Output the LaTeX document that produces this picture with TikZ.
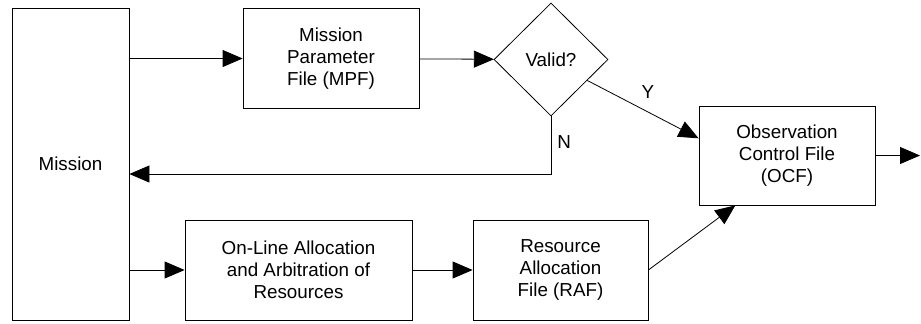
\documentclass[tikz,border=0pt]{standalone}
\usepackage{fontspec}
\setmainfont{Liberation Sans}
\usetikzlibrary{shapes.geometric, arrows.meta}
\tikzset{
	x=0.5pt, y=-0.5pt, % one unit per pixel of the layout grid
	line width=1.3pt,
	>={Triangle[length=10pt,width=8.5pt]}, % solid triangular heads
	block/.style={draw, rectangle, align=center, inner sep=2pt}, % the file and process boxes
	decision/.style={draw, diamond, aspect=1, inner sep=0pt, minimum width=57pt, minimum height=56.5pt}, % the test
	every node/.style={font=\fontsize{9.4}{11}\selectfont},
}
\begin{document}
\begin{tikzpicture}
	\useasboundingbox (0,0) rectangle (921,323);
			\node[block, minimum width=58.5pt, minimum height=156pt] (mission) at (70.5,164) {Mission};
			\node[block, minimum width=88pt, minimum height=50pt] (mpf) at (331,58.5) {Mission\\Parameter\\File (MPF)};
			\node[decision] (valid) at (551,59.5) {Valid?};
			\node[block, minimum width=88pt, minimum height=49.5pt] (ocf) at (787,155.5) {Observation\\Control File\\(OCF)};
			\node[block, minimum width=113.5pt, minimum height=50pt] (oca) at (298.5,270) {On-Line Allocation\\and Arbitration of\\Resources};
			\node[block, minimum width=87.5pt, minimum height=50pt] (raf) at (560.5,270) {Resource\\Allocation\\File (RAF)};
			\coordinate (nturn) at (551,174);
			\coordinate (out) at (920,156);
	% upper path: parameters, then the check
	\draw[->] (mission.east |- mpf) -- (mpf);
	\draw[->] (mpf) -- (valid);
	\draw[->] (valid.-30) -- node[pos=0.5, xshift=2.5pt, yshift=8.5pt]{Y} (ocf.169);
	\draw[->] (valid.south) |- node[right, pos=0.22, inner sep=3pt]{N} (mission.east |- nturn);
	% lower path: resources
	\draw[->] (mission.east |- oca) -- (oca);
	\draw[->] (oca) -- (raf);
	\draw[->] (raf.east) -- (ocf.-136);
	\draw[->] (ocf.east) -- (ocf.east -| out);
\end{tikzpicture}
\end{document}
